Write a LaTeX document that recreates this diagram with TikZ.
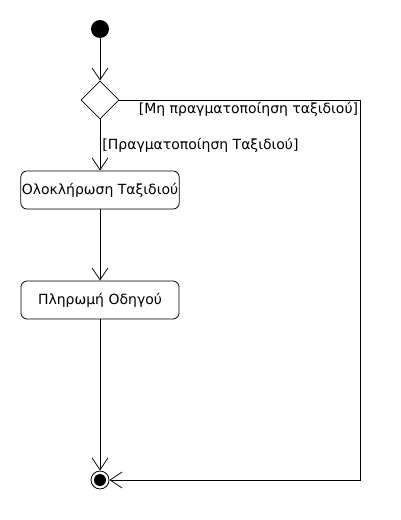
\documentclass[tikz,border=0pt]{standalone}
\usepackage{fontspec}
\setmainfont{DejaVu Sans}
\usetikzlibrary{shapes.geometric,arrows.meta}
\begin{document}
\begin{tikzpicture}[x=1pt,y=-1pt,line width=0.8pt,font=\fontsize{14}{16}\selectfont]
\useasboundingbox (0,0) rectangle (400,520);
\node[circle, fill, minimum size=18pt, inner sep=0] (start0) at (100,29){};
\node[diamond, draw, minimum size=38pt, inner sep=0] (dec0) at (100,100){};
\node[draw, rounded corners=6pt, minimum width=158pt, minimum height=38pt, inner sep=1pt] (act1) at (100,190){Ολοκλήρωση Ταξιδιού};
\node[draw, rounded corners=6pt, minimum width=158pt, minimum height=38pt] (act2) at (100,300){Πληρωμή Οδηγού};
\node[circle, draw, minimum size=18pt, inner sep=0] (end0) at (100,480){};
\node[circle, fill, minimum size=12pt, inner sep=0] (end1) at (end0){};
\coordinate (turn0) at (360,100);
\coordinate (turn1) at (360,480);
\draw[-{Straight Barb[length=12pt,width=16pt]}](start0) -- (dec0);
\draw[-{Straight Barb[length=12pt,width=16pt]}](dec0) -- node[right, inner sep=2pt, pos=0.5]{[Πραγματοποίηση Ταξιδιού]} (act1);
\draw[-{Straight Barb[length=12pt,width=16pt]}](act1) -- (act2);
\draw[-{Straight Barb[length=12pt,width=16pt]}](act2) -- (end0);
\draw[-{Straight Barb[length=12pt,width=16pt]}](dec0.east) -- (turn0) node[below left, inner sep=1.5pt]{[Μη πραγματοποίηση ταξιδιού]} -- (turn1) -- (end0);
\end{tikzpicture}
\end{document}
